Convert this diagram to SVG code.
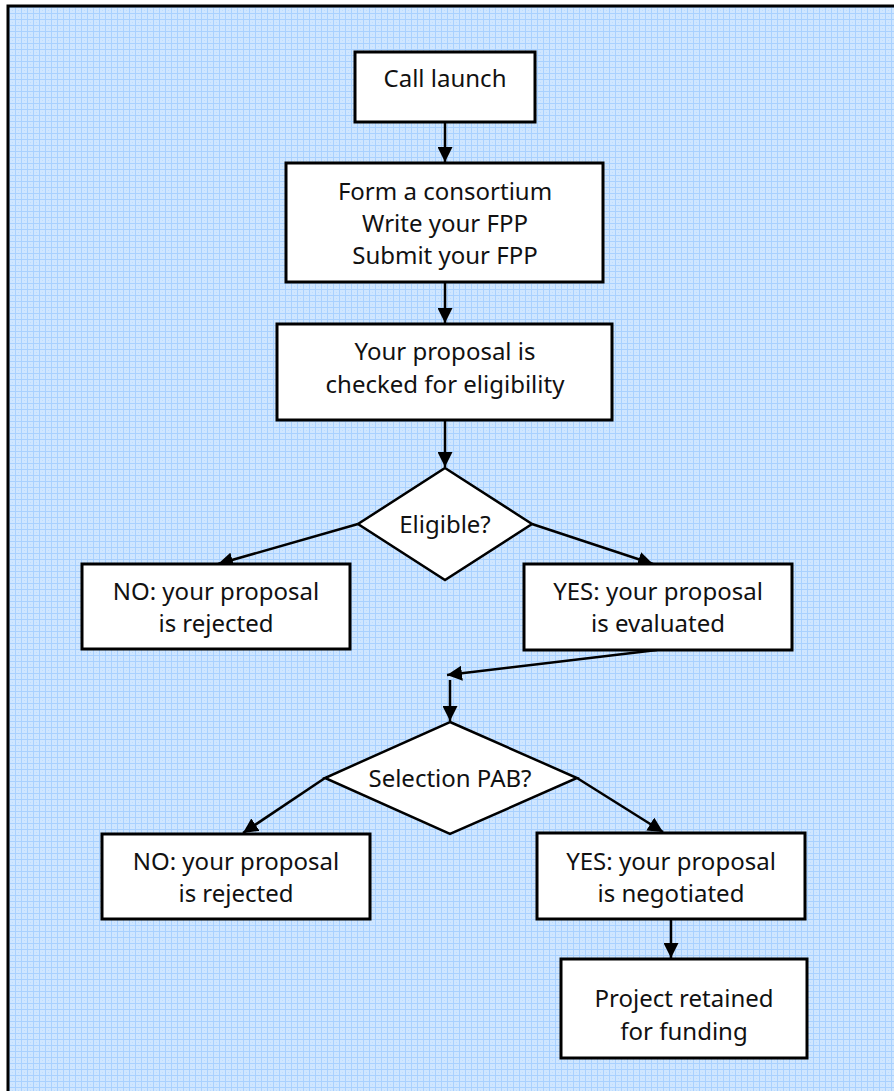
<svg xmlns="http://www.w3.org/2000/svg" width="894" height="1091" viewBox="0 0 894 1091">
<defs>
<pattern id="grid" width="6" height="6" patternUnits="userSpaceOnUse" x="9" y="7">
<rect width="6" height="6" fill="#cfe6ff"/>
<path d="M0 0.5H6M0.5 0V6" stroke="#a9d1ff" stroke-width="1" fill="none"/>
<rect x="3" y="3" width="1" height="1" fill="#bcdcff"/>
</pattern>
<marker id="ah" markerWidth="15" markerHeight="15" viewBox="0 0 15 15" refX="15" refY="7.5" orient="auto" markerUnits="userSpaceOnUse">
<path d="M0 0L15 7.5L0 15Z" fill="#000"/>
</marker>
<style>
.box{fill:#fff;stroke:#000;stroke-width:3}
.dia{fill:#fff;stroke:#000;stroke-width:2.5}
.t{font-family:"Noto Sans","DejaVu Sans",sans-serif;font-size:24px;fill:#111;text-anchor:middle}
.c{stroke:#000;stroke-width:2.5;fill:none;marker-end:url(#ah)}
</style>
</defs>
<rect x="0" y="0" width="894" height="1091" fill="#fff"/>
<rect x="9" y="7" width="900" height="1100" fill="url(#grid)"/>
<path d="M8 1091V6H894" stroke="#000" stroke-width="3" fill="none"/>

<g id="connectors">
<line class="c" x1="445" y1="122" x2="445" y2="162"/>
<line class="c" x1="445" y1="282" x2="445" y2="323"/>
<line class="c" x1="445" y1="420" x2="445" y2="467"/>
<line class="c" x1="358" y1="524" x2="218" y2="564"/>
<line class="c" x1="532" y1="524" x2="653" y2="564"/>
<line class="c" x1="657" y1="650" x2="447" y2="675"/>
<line class="c" x1="450" y1="680" x2="450" y2="721"/>
<line class="c" x1="325" y1="778" x2="243" y2="833"/>
<line class="c" x1="577" y1="778" x2="663" y2="832"/>
<line class="c" x1="671" y1="919" x2="671" y2="958"/>
</g>

<g id="n_call">
<rect class="box" x="355" y="52" width="180" height="70"/>
<text class="t" x="445" y="87">Call launch</text>
</g>
<g id="n_form">
<rect class="box" x="286" y="163" width="317" height="119"/>
<text class="t" x="445" y="200">Form a consortium</text>
<text class="t" x="445" y="232">Write your FPP</text>
<text class="t" x="445" y="264">Submit your FPP</text>
</g>
<g id="n_check">
<rect class="box" x="277" y="324" width="335" height="96"/>
<text class="t" x="445" y="360">Your proposal is</text>
<text class="t" x="445" y="393">checked for eligibility</text>
</g>
<g id="n_eligible">
<path class="dia" d="M445 468L532 524L445 580L358 524Z"/>
<text class="t" x="445" y="533">Eligible?</text>
</g>
<g id="n_no1">
<rect class="box" x="82" y="564" width="268" height="85"/>
<text class="t" x="216" y="600">NO: your proposal</text>
<text class="t" x="216" y="632">is rejected</text>
</g>
<g id="n_yes1">
<rect class="box" x="524" y="564" width="268" height="86"/>
<text class="t" x="658" y="600">YES: your proposal</text>
<text class="t" x="658" y="632">is evaluated</text>
</g>
<g id="n_selection">
<path class="dia" d="M450 722L577 778L450 834L325 778Z"/>
<text class="t" x="450" y="787">Selection PAB?</text>
</g>
<g id="n_no2">
<rect class="box" x="102" y="834" width="268" height="85"/>
<text class="t" x="236" y="870">NO: your proposal</text>
<text class="t" x="236" y="902">is rejected</text>
</g>
<g id="n_yes2">
<rect class="box" x="537" y="833" width="268" height="86"/>
<text class="t" x="671" y="870">YES: your proposal</text>
<text class="t" x="671" y="902">is negotiated</text>
</g>
<g id="n_project">
<rect class="box" x="561" y="959" width="246" height="99"/>
<text class="t" x="684" y="1007">Project retained</text>
<text class="t" x="684" y="1040">for funding</text>
</g>
</svg>
